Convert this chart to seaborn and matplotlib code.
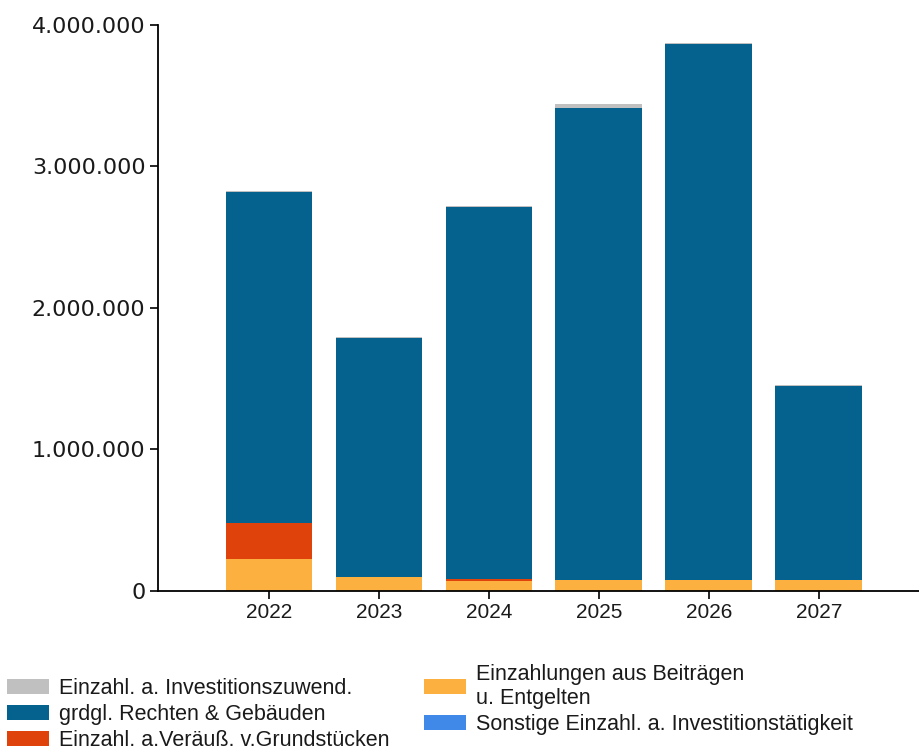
import numpy as np
import pandas as pd
import matplotlib
matplotlib.use("Agg")
import matplotlib.pyplot as plt
import seaborn as sns
from matplotlib.ticker import FuncFormatter
from matplotlib.patches import Patch

# data
years = ["2022", "2023", "2024", "2025", "2026", "2027"]
beitraege = [226000, 101000, 70000, 74000, 74000, 74000]
grundstuecke = [257000, 0, 12000, 0, 0, 0]
gebaeude = [2339000, 1687000, 2632000, 3337000, 3790000, 1373000]
zuwend = [3000, 7000, 7000, 28000, 7000, 7000]
sonstige = [0, 0, 0, 0, 0, 0]

labels = ["Einzahl. a. Investitionszuwend.",
          "grdgl. Rechten & Gebäuden",
          "Einzahl. a.Veräuß. v.Grundstücken",
          "Einzahlungen aus Beiträgen\nu. Entgelten",
          "Sonstige Einzahl. a. Investitionstätigkeit"]
colors = ["#c0c0c0", "#05628f", "#e0420c", "#fbb040", "#4189e8"]

sns.set_style("white")
plt.rcParams["font.family"] = ["Liberation Sans", "DejaVu Sans"]

df = pd.DataFrame({"year": years, "beitraege": beitraege, "grund": grundstuecke,
                   "geb": gebaeude, "zuwend": zuwend, "sonst": sonstige})
# stacking from bottom: sonstige, beitraege, grund, geb, zuwend
layers = [("sonst", colors[4]), ("beitraege", colors[3]), ("grund", colors[2]),
          ("geb", colors[1]), ("zuwend", colors[0])]
cum = np.zeros(len(years))
tops = []
for col, c in layers:
    cum = cum + df[col].values
    tops.append((cum.copy(), c))

fig = plt.figure(figsize=(9.2, 7.56), dpi=100)
ax = fig.add_axes([0.1717, 0.2183, 0.8283, 0.7487])

# draw tallest layer first, then overlay lower ones
for vals, c in reversed(tops):
    sns.barplot(x=years, y=vals, color=c, width=0.79, ax=ax,
                saturation=1, linewidth=0, errorbar=None)

ax.set_ylim(0, 4000000)
ax.set_xlim(-1.01, 5.92)
ax.set_yticks([0, 1000000, 2000000, 3000000, 4000000])
ax.yaxis.set_major_formatter(FuncFormatter(lambda v, p: f"{int(v):,}".replace(",", ".")))
ax.tick_params(axis="y", labelsize=16, length=6, width=1.2, color="black",
               left=True, pad=3, labelcolor="#1a1a1a")
ax.tick_params(axis="x", labelsize=15, length=6, width=1.2, color="black",
               bottom=True, pad=3, labelcolor="#1a1a1a")
for t in ax.get_yticklabels():
    t.set_fontfamily("DejaVu Sans")
for s in ["top", "right"]:
    ax.spines[s].set_visible(False)
for s in ["left", "bottom"]:
    ax.spines[s].set_color("black")
    ax.spines[s].set_linewidth(1.3)
ax.set_xlabel("")
ax.set_ylabel("")

handles = [Patch(facecolor=c, edgecolor="none") for c in colors]
fig.legend(handles, labels, ncol=2, loc="lower left", bbox_to_anchor=(0.005, 0.004),
           frameon=False, fontsize=15.5, handlelength=1.95, handleheight=0.7,
           handletextpad=0.47, columnspacing=1.6, labelspacing=0.22,
           borderaxespad=0.0, borderpad=0.1, labelcolor="#1a1a1a")

fig.savefig("out.png", dpi=100)
